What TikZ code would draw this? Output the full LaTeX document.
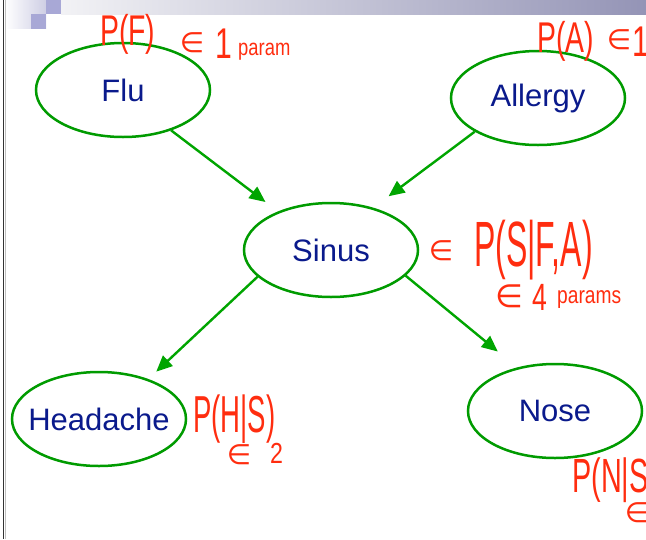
\documentclass[tikz,border=0pt]{standalone}
\usepackage{fontspec}
\usepackage{graphicx}
\setmainfont{Liberation Sans}
\newfontfamily\symfont{DejaVu Sans}
\usetikzlibrary{arrows.meta,shapes.geometric,shadings}

\definecolor{nodegreen}{RGB}{0,155,0}
\definecolor{arrowgreen}{RGB}{0,165,0}
\definecolor{labelblue}{RGB}{10,26,140}
\definecolor{inkred}{RGB}{255,45,15}
\definecolor{bandpurple}{RGB}{148,148,182}
\definecolor{bandlight}{RGB}{242,242,245}
\definecolor{squareblue}{RGB}{168,168,214}
\definecolor{cornerlight}{RGB}{206,206,228}

% handwritten-style annotation helpers
\newcommand{\inkfont}[1]{\fontsize{#1}{#1}\selectfont}
\newcommand{\squeeze}[2]{\scalebox{#1}[1]{#2}}
% label that does not widen its ellipse
\newcommand{\vlabel}[1]{\makebox[0pt]{#1}}

\begin{document}
\begin{tikzpicture}[x=1pt,y=-1pt,
  var/.style={ellipse, draw=nodegreen, line width=2.5pt,
    minimum width=174pt, minimum height=94pt, inner sep=0pt,
    text=labelblue, font=\fontsize{31}{36}\selectfont},
  edge/.style={draw=arrowgreen, line width=2.4pt,
    -{Triangle[length=16pt,width=14pt]}},
  ink/.style={text=inkred, inner sep=0pt, anchor=base west},
  elem/.style={text=inkred, inner sep=0pt, anchor=center,
    font=\symfont\fontsize{28}{28}\selectfont}
]
\useasboundingbox (0,0) rectangle (646,539);
\clip (0,0) rectangle (646,539);
\fill[white] (0,0) rectangle (646,539);

% slide decoration: title band, corner squares, left rule
\shade[left color=bandlight, right color=bandpurple] (61,0) rectangle (646,14);
\shade[left color=white, right color=cornerlight] (5,0) rectangle (46,28);
\fill[squareblue] (46,0) rectangle (61,14);
\fill[squareblue] (31,14) rectangle (46,29);
\draw[line width=1.6pt, black!80] (3.5,0) -- (3.5,539);
\draw[line width=1pt, black!25] (5.3,0) -- (5.3,539);

% variables
\node[var] (flu)      at (123,90)  {\vlabel{Flu}};
\node[var] (allergy)  at (538,98)  {\vlabel{Allergy}};
\node[var] (sinus)    at (331,250) {\vlabel{Sinus}};
\node[var] (headache) at (99,419)  {\vlabel{Headache}};
\node[var] (nose)     at (555,411) {\vlabel{Nose}};

% dependencies
\draw[edge, shorten >=15.6pt] (flu.-40) -- (sinus.144.5);
\draw[edge, shorten >=19pt] (allergy.-152) -- (sinus.45);
\draw[edge, shorten >=10.8pt] (sinus.-160.6) -- (headache.39.5);
\draw[edge, shorten >=25pt] (sinus.-19) -- (nose.131.8);

% annotations: Flu
\node[ink, font=\inkfont{43}] (pf) at (100,45) {\squeeze{0.66}{P(F)}};
\node[elem] (pfin) at (192,43) {∈};
\node[ink, font=\inkfont{43}] (pfone) at (215,58) {\squeeze{0.7}{1}};
\node[ink, font=\inkfont{23}] (pfparam) at (238,55) {\squeeze{0.8}{param}};

% annotations: Allergy
\node[ink, font=\inkfont{43}] (pa) at (537,52) {\squeeze{0.66}{P(A)}};
\node[elem] (pain) at (619,40) {∈};
\node[ink, font=\inkfont{43}] (paone) at (632,56) {\squeeze{0.7}{1}};

% annotations: Sinus
\node[elem] (psin) at (441,251) {∈};
\node[ink, font=\inkfont{64}] (ps) at (474,266) {\squeeze{0.5}{P(S|F,A)}};
\node[elem, font=\symfont\fontsize{32}{32}\selectfont] (ps4in) at (509,296) {∈};
\node[ink, font=\inkfont{38}] (psfour) at (532,310) {\squeeze{0.7}{4}};
\node[ink, font=\inkfont{24}] (psparams) at (557,303) {\squeeze{0.8}{params}};

% annotations: Headache
\node[ink, font=\inkfont{52}] (ph) at (193,432) {\squeeze{0.53}{P(H|S)}};
\node[elem] (phin) at (239,455) {∈};
\node[ink, font=\inkfont{29}] (phtwo) at (270,463) {\squeeze{0.8}{2}};

% annotations: Nose
\node[ink, font=\inkfont{48}] (pn) at (572,492) {\squeeze{0.6}{P(N|S}};
\node[elem] (pnin) at (637,513) {∈};
\end{tikzpicture}
\end{document}
